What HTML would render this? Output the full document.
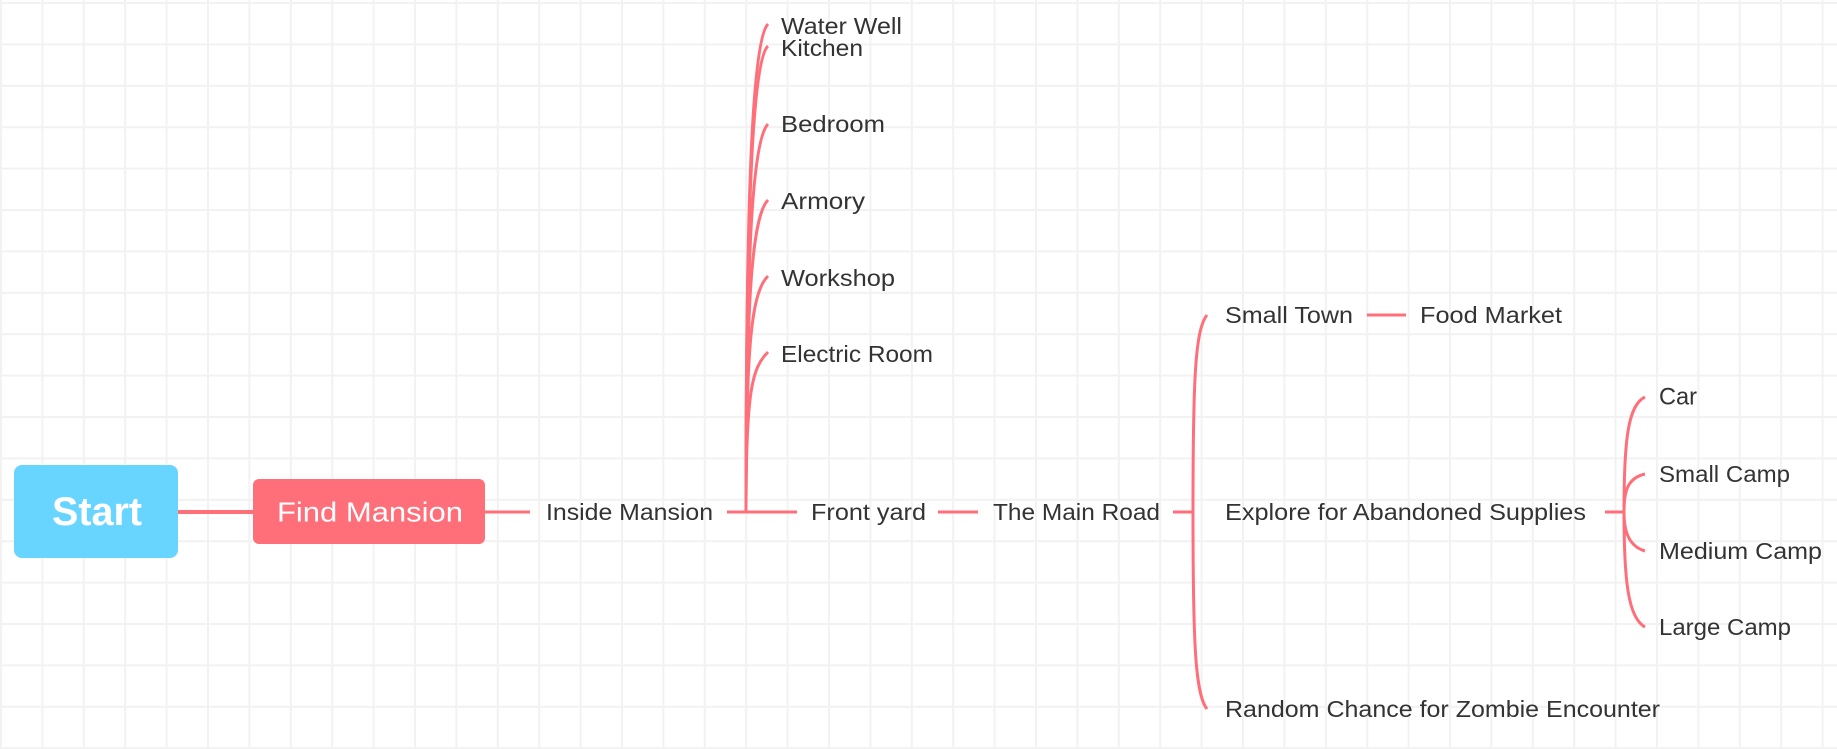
<!DOCTYPE html>
<html><head><meta charset="utf-8"><style>
html,body{margin:0;padding:0;background:#fff;}
svg{display:block;}
text{font-family:"Liberation Sans",sans-serif;fill:#333;font-size:23px;dominant-baseline:central;}
</style></head><body>
<svg width="1837" height="749" viewBox="0 0 1837 749" xmlns="http://www.w3.org/2000/svg">
<defs>
<pattern id="gv" x="0" y="0" width="41.4" height="749" patternUnits="userSpaceOnUse"><rect x="0" y="0" width="2" height="749" fill="#f2f2f2"/></pattern>
<pattern id="gh" x="0" y="2" width="1837" height="41.4" patternUnits="userSpaceOnUse"><rect x="0" y="0" width="1837" height="2" fill="#f2f2f2"/></pattern>
</defs>
<rect width="1837" height="749" fill="#fff"/>
<rect width="1837" height="749" fill="url(#gv)"/>
<rect width="1837" height="749" fill="url(#gh)"/>
<g stroke="#ff6f7a" fill="none" stroke-linecap="butt">
<line x1="178" y1="512" x2="253" y2="512" stroke-width="4"/>
<line x1="485" y1="512" x2="530" y2="512" stroke-width="3"/>
<line x1="727" y1="512" x2="797" y2="512" stroke-width="3"/>
<line x1="938" y1="512" x2="978" y2="512" stroke-width="3"/>
<line x1="1173" y1="512" x2="1193" y2="512" stroke-width="3"/>
<line x1="1367" y1="315" x2="1406" y2="315" stroke-width="3"/>
<line x1="1605" y1="512" x2="1624" y2="512" stroke-width="3"/>
<g stroke-width="3">
<path d="M746 512 C746 200 752 40 768 24"/>
<path d="M746 512 C746 220 752 60 768 46"/>
<path d="M746 512 C746 260 752 140 768 124"/>
<path d="M746 512 C746 300 752 216 768 200"/>
<path d="M746 512 C746 340 752 292 768 276"/>
<path d="M746 512 C746 390 752 368 768 352"/>
<path d="M1193 512 C1193 380 1195 330 1207 315"/>
<path d="M1193 512 C1193 640 1195 694 1207 709"/>
<path d="M1624 512 C1624 440 1628 405 1645 397"/>
<path d="M1624 512 C1624 490 1628 478 1645 474"/>
<path d="M1624 512 C1624 530 1628 546 1645 551"/>
<path d="M1624 512 C1624 580 1628 618 1645 627"/>
</g>
</g>
<rect x="14" y="465" width="164" height="93" rx="8" fill="#67d5ff"/>
<text x="52" y="512" textLength="90" lengthAdjust="spacingAndGlyphs" style="fill:#fff;font-size:40px;font-weight:bold">Start</text>
<rect x="253" y="479" width="232" height="65" rx="6" fill="#ff6f7a"/>
<text x="277" y="512" textLength="186" lengthAdjust="spacingAndGlyphs" style="fill:#fff;font-size:28px">Find Mansion</text>
<text x="546" y="512" textLength="167" lengthAdjust="spacingAndGlyphs">Inside Mansion</text>
<text x="811" y="512" textLength="115" lengthAdjust="spacingAndGlyphs">Front yard</text>
<text x="993" y="512" textLength="167" lengthAdjust="spacingAndGlyphs">The Main Road</text>
<text x="1225" y="315" textLength="128" lengthAdjust="spacingAndGlyphs">Small Town</text>
<text x="1420" y="315" textLength="142" lengthAdjust="spacingAndGlyphs">Food Market</text>
<text x="1225" y="512" textLength="361" lengthAdjust="spacingAndGlyphs">Explore for Abandoned Supplies</text>
<text x="1225" y="709" textLength="435" lengthAdjust="spacingAndGlyphs">Random Chance for Zombie Encounter</text>
<text x="1659" y="397" textLength="38" lengthAdjust="spacingAndGlyphs" style="font-size:24px">Car</text>
<text x="1659" y="474" textLength="131" lengthAdjust="spacingAndGlyphs">Small Camp</text>
<text x="1659" y="551" textLength="163" lengthAdjust="spacingAndGlyphs">Medium Camp</text>
<text x="1659" y="627" textLength="132" lengthAdjust="spacingAndGlyphs">Large Camp</text>
<text x="781" y="26" textLength="121" lengthAdjust="spacingAndGlyphs">Water Well</text>
<text x="781" y="48" textLength="82" lengthAdjust="spacingAndGlyphs">Kitchen</text>
<text x="781" y="124" textLength="104" lengthAdjust="spacingAndGlyphs">Bedroom</text>
<text x="781" y="201" textLength="84" lengthAdjust="spacingAndGlyphs">Armory</text>
<text x="781" y="278" textLength="114" lengthAdjust="spacingAndGlyphs">Workshop</text>
<text x="781" y="354" textLength="152" lengthAdjust="spacingAndGlyphs">Electric Room</text>
</svg>
</body></html>
